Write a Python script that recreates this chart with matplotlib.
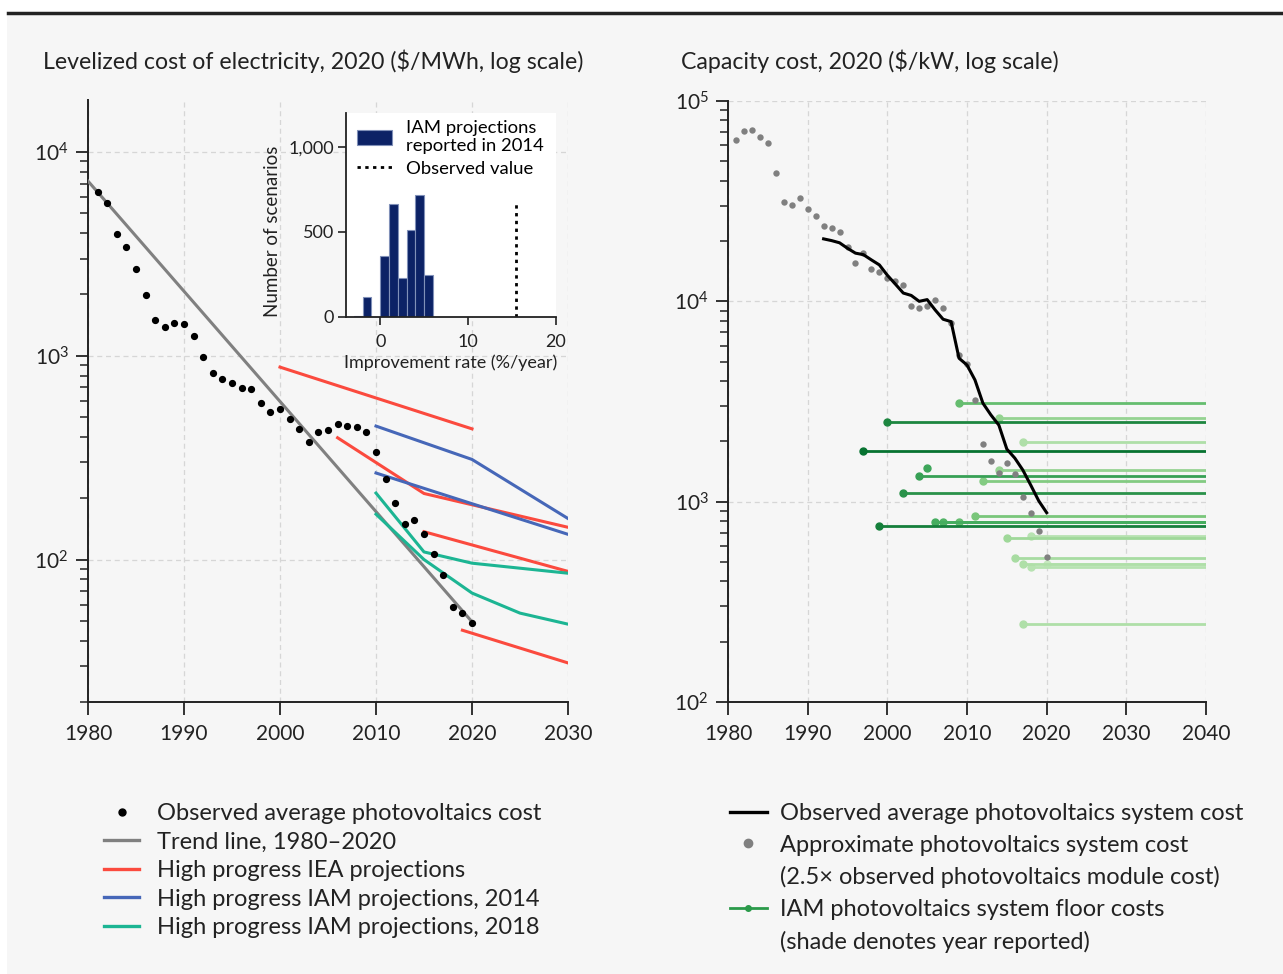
import matplotlib.pyplot as plt
import matplotlib.patches as mpatches
from matplotlib.lines import Line2D
from matplotlib.ticker import FuncFormatter

plt.rcParams['font.family'] = ['Lato', 'DejaVu Sans']

# ---- Levelized cost of electricity ($/MWh) ----
lcoe_years = list(range(1981, 2021))
lcoe_obs = [6330, 5650, 3970, 3420, 2670, 1980, 1500, 1390, 1450, 1430,
            1250, 990, 827, 770, 736, 695, 688, 584, 528, 550,
            489, 437, 378, 421, 430, 462, 454, 449, 422, 338,
            249, 189, 150, 157, 133, 106, 84.4, 58.5, 54.4, 49.1]
trend_years = [1980, 2020]
trend_vals = [7200, 49.5]

iea_years = [[2000, 2020], [2006, 2015, 2030], [2015, 2030], [2019, 2030]]
iea_vals = [[880, 438], [396, 211, 144], [137, 87.5], [45, 31.1]]
iam14_years = [[2010, 2020, 2030], [2010, 2020, 2030]]
iam14_vals = [[452, 310, 159], [266, 188, 133]]
iam18_years = [[2010, 2015, 2020, 2030], [2010, 2015, 2020, 2025, 2030]]
iam18_vals = [[212, 109, 96, 85.7], [167, 100, 68.5, 54.6, 48.2]]

# ---- Improvement-rate histogram (IAM 2014) ----
rate_bins = [-3, -2, -1, 0, 1, 2, 3, 4, 5]
rate_counts = [5, 115, 0, 358, 662, 228, 510, 713, 248]
observed_rate = 15.4
observed_rate_top = 675

# ---- Capacity cost ($/kW) ----
module_years = list(range(1981, 2021))
approx_sys = [63700, 70900, 71500, 66400, 61500, 43700, 31200, 30400, 32800, 28800,
              26700, 23700, 23200, 22200, 18600, 15600, 17400, 14500, 14000, 13100,
              12600, 12000, 9520, 9270, 9490, 10200, 9270, 7800, 5400, 4860,
              3220, 1930, 1600, 1390, 1560, 1380, 1060, 881, 712, 528]
sys_years = list(range(1992, 2021))
sys_cost = [20500, 20100, 19600, 18400, 17400, 17100, 16100, 15200, 13500, 12200,
            11000, 10700, 10000, 10200, 9060, 8140, 7920, 5200, 4810, 4050,
            3100, 2710, 2410, 1830, 1650, 1440, 1210, 1010, 881]

floor_start = [2009, 2014, 2000, 2017, 1997, 2005, 2014, 2004, 2012, 2002, 2011,
               2006, 2007, 2009, 1999, 2015, 2018, 2016, 2017, 2020, 2018, 2017]
floor_end = [2040, 2040, 2040, 2040, 2040, 2005, 2040, 2040, 2040, 2040, 2040,
             2040, 2040, 2040, 2040, 2040, 2040, 2040, 2040, 2040, 2040, 2040]
floor_cost = [3120, 2630, 2500, 1990, 1790, 1470, 1445, 1350, 1270, 1110, 851,
              795, 795, 795, 756, 656, 674, 526, 490, 490, 472, 245]

RED = '#fb4a3e'
BLUE = '#4667b8'
TEAL = '#1cb593'
GRID = '#d6d6d6'
INK = '#222222'
BG = '#f6f6f6'

W, H = 1283, 974
fig = plt.figure(figsize=(W / 100, H / 100), dpi=100, facecolor='white')

# panel background and top rule
fig.patches.append(mpatches.Rectangle((7 / W, 0), 1 - 7 / W, 1 - 14 / H,
                                      transform=fig.transFigure, facecolor=BG,
                                      edgecolor='none', zorder=-10))
fig.lines.append(Line2D([8 / W, 1], [1 - 13 / H, 1 - 13 / H], transform=fig.transFigure,
                        color=INK, lw=2.5, zorder=-5))


def style_axes(ax):
    ax.set_facecolor('none')
    ax.set_yscale('log')
    for s in ['top', 'right']:
        ax.spines[s].set_visible(False)
    for s in ['left', 'bottom']:
        ax.spines[s].set_linewidth(1.4)
        ax.spines[s].set_color(INK)
    ax.tick_params(which='major', length=9, width=1.3, color=INK, labelsize=15,
                   labelcolor=INK, pad=5)
    ax.tick_params(axis='x', which='major', pad=7)
    ax.tick_params(which='minor', length=6, width=1.1, color=INK)
    ax.grid(True, which='major', color=GRID, ls=(0, (4, 3)), lw=0.9)
    ax.set_axisbelow(True)


# ---------------- left panel ----------------
ax1 = fig.add_axes([88 / W, 272 / H, 480 / W, 602 / H])
style_axes(ax1)
ax1.set_xlim(1980, 2030)
ax1.set_ylim(20, 18000)
ax1.set_xticks(range(1980, 2031, 10))

ax1.plot(trend_years, trend_vals, color='#808080', lw=2.2, zorder=3)
for yrs, vals in zip(iea_years, iea_vals):
    ax1.plot(yrs, vals, color=RED, lw=2.2, zorder=3)
for yrs, vals in zip(iam14_years, iam14_vals):
    ax1.plot(yrs, vals, color=BLUE, lw=2.2, zorder=3)
for yrs, vals in zip(iam18_years, iam18_vals):
    ax1.plot(yrs, vals, color=TEAL, lw=2.2, zorder=3)
ax1.plot(lcoe_years, lcoe_obs, 'o', color='black', ms=4.2, zorder=4)

fig.text(43 / W, 1 - 61 / H, 'Levelized cost of electricity, 2020 ($/MWh, log scale)',
         fontsize=16.7, color=INK, va='center', ha='left')

# inset histogram
axi = fig.add_axes([346 / W, 1 - 316.7 / H, 210 / W, 204 / H])
axi.set_facecolor('white')
axi.set_zorder(5)
for s in ['top', 'right']:
    axi.spines[s].set_visible(False)
for s in ['left', 'bottom']:
    axi.spines[s].set_linewidth(1.3)
    axi.spines[s].set_color(INK)
bars = axi.bar(rate_bins, rate_counts, width=1.0, align='edge', color='#0c2266',
               edgecolor='#8090b8', linewidth=0.8)
obs_line, = axi.plot([observed_rate, observed_rate], [0, observed_rate_top], color='black',
                     ls=(0, (1.2, 1.6)), lw=2)
axi.set_xlim(-3.9, 20)
axi.set_ylim(0, 1200)
axi.set_xticks([0, 10, 20])
axi.set_yticks([0, 500, 1000])
axi.yaxis.set_major_formatter(FuncFormatter(lambda v, p: f'{int(v):,}'))
axi.tick_params(length=5.5, width=1.2, color=INK, labelsize=13, labelcolor=INK, pad=3)
axi.tick_params(axis='x', pad=7)
axi.set_xlabel('Improvement rate (%/year)', fontsize=13, color=INK, labelpad=3)
axi.set_ylabel('Number of scenarios', fontsize=13.5, color=INK)
axi.yaxis.set_label_coords(-0.31, 0.42)
axi.legend([bars, obs_line], ['IAM projections\nreported in 2014', 'Observed value'],
           loc='upper left', frameon=False, fontsize=13.3, handlelength=1.9,
           handleheight=0.9, borderpad=0, borderaxespad=0, labelspacing=0.3,
           handletextpad=0.8, bbox_to_anchor=(0.05, 0.965))

# ---------------- right panel ----------------
ax2 = fig.add_axes([728 / W, 272 / H, 478 / W, 601 / H])
style_axes(ax2)
ax2.set_xlim(1980, 2040)
ax2.set_ylim(100, 100000)
ax2.set_xticks(range(1980, 2041, 10))

cmap = plt.cm.Greens
for x0, x1, c in sorted(zip(floor_start, floor_end, floor_cost), key=lambda t: -t[0]):
    col = cmap(0.85 - 0.6 * (x0 - 1997) / 23)
    ax2.plot([x0, x1], [c, c], color=col, lw=2, zorder=3)
    ax2.plot([x0], [c], 'o', color=col, ms=5, zorder=3)
ax2.plot(module_years, approx_sys, 'o', color='#808080', ms=4.6, mec='none', zorder=4)
ax2.plot(sys_years, sys_cost, color='black', lw=2.2, zorder=5)

fig.text(681 / W, 1 - 61 / H, 'Capacity cost, 2020 ($/kW, log scale)',
         fontsize=16.7, color=INK, va='center', ha='left')

# ---------------- legends ----------------
left_handles = [
    Line2D([], [], ls='none', marker='o', color='black', ms=5),
    Line2D([], [], color='#808080', lw=2.4),
    Line2D([], [], color=RED, lw=2.4),
    Line2D([], [], color=BLUE, lw=2.4),
    Line2D([], [], color=TEAL, lw=2.4),
]
left_labels = ['Observed average photovoltaics cost', 'Trend line, 1980\u20132020',
               'High progress IEA projections', 'High progress IAM projections, 2014',
               'High progress IAM projections, 2018']
fig.legend(left_handles, left_labels, loc='upper left', bbox_to_anchor=(104 / W, 1 - 803 / H),
           frameon=False, fontsize=17, labelspacing=0.32, handlelength=1.5,
           handletextpad=0.75, borderpad=0, borderaxespad=0, labelcolor=INK)

# second lines of the two-line entries get an empty handle
blank = Line2D([], [], ls='none', alpha=0)
right_handles = [
    Line2D([], [], color='black', lw=2.4),
    Line2D([], [], ls='none', marker='o', color='#808080', ms=6),
    blank,
    Line2D([], [], color='#2a9a4a', lw=2, marker='o', ms=4),
    blank,
]
right_labels = ['Observed average photovoltaics system cost',
                'Approximate photovoltaics system cost',
                '(2.5\u00d7 observed photovoltaics module cost)',
                'IAM photovoltaics system floor costs',
                '(shade denotes year reported)']
fig.legend(right_handles, right_labels, loc='upper left',
           bbox_to_anchor=(730 / W, 1 - 803 / H),
           frameon=False, fontsize=17, labelspacing=0.45, handlelength=1.55,
           handletextpad=0.55, borderpad=0, borderaxespad=0, labelcolor=INK)

fig.savefig('out.png', dpi=100, facecolor=fig.get_facecolor())
